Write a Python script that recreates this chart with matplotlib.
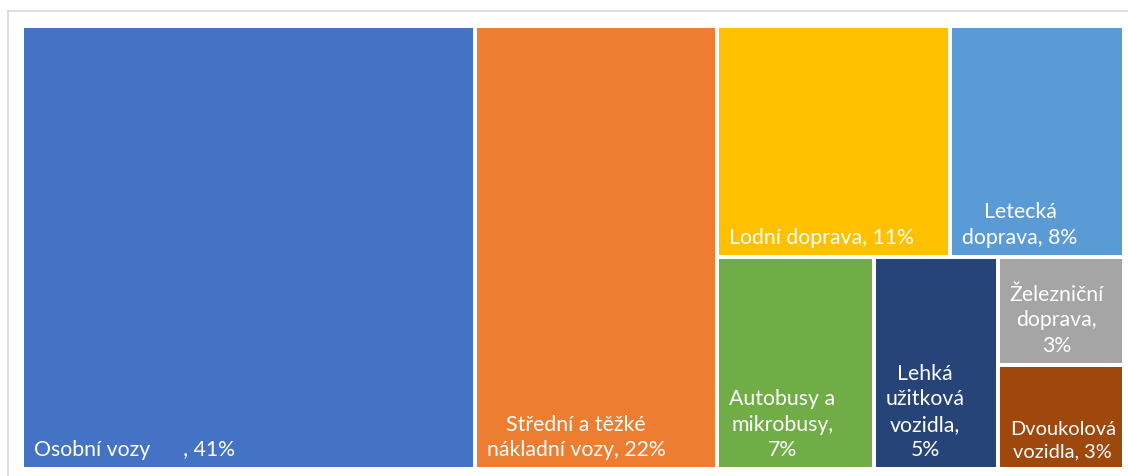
import matplotlib
matplotlib.use("Agg")
import matplotlib.pyplot as plt
from matplotlib.patches import Rectangle
from matplotlib.lines import Line2D

# ── Data ───────────────────────────────────────────────
names = [
    "Osobní vozy      ",
    "Střední a těžké\nnákladní vozy",
    "Lodní doprava",
    "Letecká\ndoprava",
    "Autobusy a\nmikrobusy",
    "Lehká\nužitková\nvozidla",
    "Železniční\ndoprava",
    "Dvoukolová\nvozidla",
]
shares = [41.1, 22.0, 11.0, 8.2, 6.8, 5.4, 2.8, 2.7]
pct_on_new_line = [False, False, False, False, True, True, True, False]

colors = ["#4472C4", "#ED7D31", "#FFC000", "#5B9BD5",
          "#70AD47", "#264478", "#A5A5A5", "#9E480E"]

plt.rcParams["font.family"] = ["Lato", "DejaVu Sans"]

# ── Squarified treemap layout ─────────────────────────
def worst(row, length):
    s = sum(row)
    return max(max(length ** 2 * r / s ** 2, s ** 2 / (length ** 2 * r)) for r in row)


def squarify(vals, x, y, w, h):
    total = sum(vals)
    areas = [v / total * w * h for v in vals]
    rects = []
    while areas:
        length = min(w, h)
        row = [areas[0]]
        i = 1
        while i < len(areas) and worst(row + [areas[i]], length) <= worst(row, length):
            row.append(areas[i])
            i += 1
        s = sum(row)
        if w >= h:
            cw = s / h
            yy = y
            for a in row:
                rects.append((x, yy, cw, a / cw))
                yy += a / cw
            x += cw
            w -= cw
        else:
            rh = s / w
            xx = x
            for a in row:
                rects.append((xx, y, a / rh, rh))
                xx += a / rh
            y += rh
            h -= rh
        areas = areas[i:]
    return rects


# ── Figure ─────────────────────────────────────────────
FW, FH = 1128, 477
W, H = 1102, 443
fig = plt.figure(figsize=(FW / 100, FH / 100), dpi=100)
ax = fig.add_axes([22 / FW, 7 / FH, W / FW, H / FH])
ax.set_xlim(0, W)
ax.set_ylim(H, 0)
ax.axis("off")
renderer = fig.canvas.get_renderer()

gap = 2
pad_x, pad_y = 10, 8
for (x, y, w, h), name, v, nl, c in zip(squarify(shares, 0, 0, W, H),
                                       names, shares, pct_on_new_line, colors):
    ax.add_patch(Rectangle((x + gap, y + gap), w - 2 * gap, h - 2 * gap,
                           facecolor=c, edgecolor="none"))
    label = name + ("," + "\n" if nl else ", ") + f"{round(v):.0f}%"
    t = ax.text(x + gap + pad_x, y + h - gap - pad_y, label, ha="left",
                va="bottom", multialignment="center", color="white",
                fontsize=15.3, linespacing=1.33)
    # shrink the label if it does not fit in its tile
    room = w - 2 * gap - 2 * pad_x + 4
    tw = t.get_window_extent(renderer).width
    if tw > room:
        t.set_fontsize(15.3 * room / tw)

# chart border (cropped on right/bottom)
fig.add_artist(Line2D([8 / FW, 1], [1 - 12 / FH, 1 - 12 / FH],
                      transform=fig.transFigure, color="#D9D9D9", lw=1.2))
fig.add_artist(Line2D([8 / FW, 8 / FW], [0, 1 - 12 / FH],
                      transform=fig.transFigure, color="#D9D9D9", lw=1.2))

fig.savefig("out.png", dpi=100, facecolor="white")
plt.close(fig)
